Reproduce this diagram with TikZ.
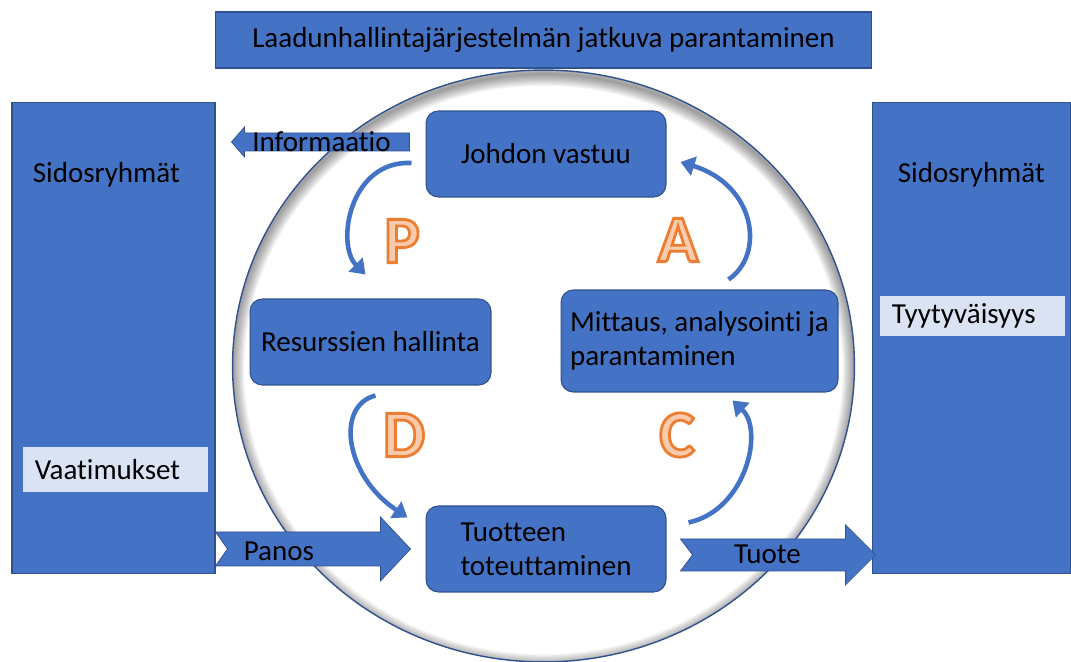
\documentclass[tikz,border=0pt]{standalone}
\usepackage{fontspec}
\setmainfont{Carlito}[Ligatures=NoCommon]
\usetikzlibrary{positioning,arrows.meta,calc}

\definecolor{qmblue}{HTML}{4472C4}
\definecolor{qmedge}{HTML}{2F528F}
\definecolor{qmlight}{HTML}{DAE3F3}
\definecolor{qmorange}{HTML}{ED7D31}
\definecolor{qmpeach}{HTML}{F8CBAD}

% hollow orange letters for the PDCA phases
\newcommand{\hollowletter}[1]{{\color{qmpeach}\special{pdf:literal direct 0.929 0.490 0.192 RG 2 Tr 1.6 w}#1\special{pdf:literal direct 0 Tr}}}

\begin{document}
\begin{tikzpicture}[
    x=0.02cm, y=-0.02cm,
    every node/.style={font=\fontsize{16.5}{19.5}\selectfont},
    qbox/.style={draw=qmedge, fill=qmblue, line width=0.6pt},
    phasebox/.style={qbox, rounded corners=7pt, minimum width=4.8cm, minimum height=1.72cm, align=left},
    notebox/.style={fill=qmlight, text width=3.22cm, inner xsep=0.24cm, align=left, anchor=north west},
    plain/.style={inner sep=0pt},
    blockarr/.style={fill=qmblue, draw=qmedge, line width=0.4pt},
    cyclearr/.style={draw=qmblue, line width=2.6pt, -{Triangle[length=8pt,width=11pt]}},
    phaseletter/.style={font=\fontsize{38}{38}\selectfont\bfseries}
]
\useasboundingbox (0,0) rectangle (1071,662);

% Circle with inner shadow
\fill[white] (543.5,366) ellipse [x radius=6.22cm, y radius=5.92cm];
\begin{scope}
  \clip (543.5,366) ellipse [x radius=6.22cm, y radius=5.92cm];
  \foreach \k in {0,...,9}
    \draw[black, opacity=0.045, line width={(2+2.4*\k)*0.567pt}] (543.5,370) ellipse [x radius=6.22cm, y radius=5.92cm];
\end{scope}
\draw[qmedge, line width=0.8pt] (543.5,366) ellipse [x radius=6.22cm, y radius=5.92cm];

% Title and stakeholders
\node[qbox, minimum width=13.14cm, minimum height=1.12cm] (otsikko) at (543.5,40) {Laadunhallintajärjestelmän jatkuva parantaminen};
\node[qbox, minimum width=4.06cm, minimum height=9.44cm] (sidL) at (113.5,338) {};
\node[qbox, minimum width=3.98cm, minimum height=9.44cm] (sidR) at (971.5,338) {};
\node[plain, anchor=west] at ($(sidL.north west)+(21,73)$) {Sidosryhmät};
\node[plain, anchor=west] at ($(sidR.north west)+(26,73)$) {Sidosryhmät};
\node[notebox, minimum height=0.9cm] (vaatimukset) at ($(sidL.north west)+(11,345)$) {Vaatimukset};
\node[notebox, minimum height=0.8cm] (tyytyvaisyys) at ($(sidR.north west)+(8,194)$) {Tyytyväisyys};

% Process nodes
\node[phasebox] (johdon) at (546,154) {Johdon vastuu};
\node[phasebox, minimum width=4.82cm] (resurssit) at (370.5,342) {Resurssien hallinta};
\node[phasebox, minimum width=5.54cm, minimum height=2.04cm] (mittaus) at (699.5,341) {Mittaus, analysointi ja\\parantaminen};
\node[phasebox, below=6.16cm of johdon] (tuotteen) {Tuotteen\\toteuttaminen};

% PDCA letters
\node[phaseletter] at (402,241) {\hollowletter{P}};
\node[phaseletter] at (678,240) {\hollowletter{A}};
\node[phaseletter] at (404,435) {\hollowletter{D}};
\node[phaseletter] at (677,435) {\hollowletter{C}};

% Cycle arrows
\draw[cyclearr] ($(johdon.west)+(-14,9)$) .. controls +(-62,-3) and +(-30,-30) .. ($(resurssit.north)+(-5,-24)$);
\draw[cyclearr] ($(resurssit.south)+(5,10)$) .. controls +(-40,10) and +(-63,-42) .. ($(tuotteen.north west)+(-18,12)$);
\draw[cyclearr] ($(tuotteen.north east)+(22,17)$) .. controls +(57,-12) and +(32,30) .. ($(mittaus.south)+(33,8)$);
\draw[cyclearr] ($(mittaus.north)+(29,-10)$) .. controls +(37,-25) and +(75,23) .. ($(johdon.east)+(14,8)$);

% Block arrows
\draw[blockarr] ($(johdon.west)+(-16,-12)$) ++(0,-9) -- ++(-165,0) -- ++(0,-6) -- ++(-13,15) -- ++(13,15) -- ++(0,-6) -- ++(165,0) -- cycle;
\node[plain] at ($(johdon.west)+(-104,-12)$) {Informaatio};
\draw[blockarr] (sidL.east |- tuotteen.west) ++(0,-17) -- ++(165,0) -- ++(0,-15) -- ++(30,32) -- ++(-30,32) -- ++(0,-15) -- ++(-165,0) -- ++(12,-17) -- cycle;
\node[plain, anchor=west] at ($(sidL.east |- tuotteen.west)+(28,2)$) {Panos};
\draw[blockarr] ($(tuotteen.east)+(14,6)$) ++(0,-16) -- ++(165,0) -- ++(0,-14) -- ++(30,30) -- ++(-30,30) -- ++(0,-14) -- ++(-165,0) -- ++(12,-16) -- cycle;
\node[plain] at ($(tuotteen.east)+(101,5)$) {Tuote};

\end{tikzpicture}
\end{document}
